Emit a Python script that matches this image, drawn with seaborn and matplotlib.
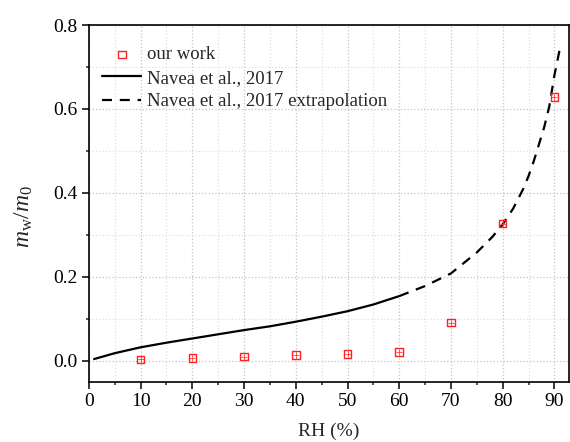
import numpy as np
import pandas as pd
import matplotlib
matplotlib.use("Agg")
import matplotlib.pyplot as plt
from matplotlib.ticker import MultipleLocator
import seaborn as sns

# measured data ("our work")
rh_work = [10, 20, 30, 40, 50, 60, 70, 80, 90]
mw_work = [0.003, 0.007, 0.010, 0.013, 0.016, 0.021, 0.091, 0.327, 0.629]

# Navea et al., 2017 (measured range)
rh_navea = [1, 3, 5, 10, 15, 20, 25, 30, 35, 40, 45, 50, 55, 60]
mw_navea = [0.004, 0.011, 0.018, 0.032, 0.043, 0.053, 0.063, 0.073, 0.082, 0.093,
            0.105, 0.118, 0.134, 0.154]

# Navea et al., 2017 extrapolation
rh_extra = [60, 65, 70, 75, 78, 80, 82, 84, 85, 86, 87, 88, 89, 90, 91]
mw_extra = [0.154, 0.178, 0.208, 0.258, 0.295, 0.325, 0.362, 0.41, 0.44, 0.475,
            0.515, 0.555, 0.605, 0.68, 0.74]

sns.set_theme(style="ticks")
plt.rcParams['font.family'] = ['Liberation Serif', 'DejaVu Serif']
plt.rcParams['mathtext.fontset'] = 'custom'
plt.rcParams['mathtext.rm'] = 'Liberation Serif'
plt.rcParams['mathtext.it'] = 'Liberation Serif:italic'

fig = plt.figure(figsize=(5.70, 4.42), dpi=100)
ax = fig.add_axes([0.156, 0.1364, 0.842, 0.807])

df_work = pd.DataFrame({"RH": rh_work, "mw": mw_work})
df_navea = pd.DataFrame({"RH": rh_navea, "mw": mw_navea})
df_extra = pd.DataFrame({"RH": rh_extra, "mw": mw_extra})

sns.lineplot(data=df_navea, x="RH", y="mw", ax=ax, color="black", lw=1.6,
             label="Navea et al., 2017", zorder=3)
sns.lineplot(data=df_extra, x="RH", y="mw", ax=ax, color="black", lw=1.6,
             label="Navea et al., 2017 extrapolation", zorder=3)
ax.lines[-1].set_dashes((4.5, 3.5))

ax.plot(rh_work, mw_work, linestyle="none", marker="+", ms=5, mew=0.6,
        color="#ff3b3b", zorder=4)
sns.scatterplot(data=df_work, x="RH", y="mw", ax=ax, marker="s", s=30,
                facecolor="none", edgecolor="#ff2020", linewidth=1.0,
                label="our work", zorder=5)

ax.set_xlim(0, 92.8)
ax.set_ylim(-0.05, 0.8)
ax.xaxis.set_major_locator(MultipleLocator(10))
ax.xaxis.set_minor_locator(MultipleLocator(5))
ax.yaxis.set_major_locator(MultipleLocator(0.2))
ax.yaxis.set_minor_locator(MultipleLocator(0.1))
ax.set_xticks(np.arange(0, 91, 10))
ax.set_yticks([0.0, 0.2, 0.4, 0.6, 0.8])
ax.set_yticklabels(["0.0", "0.2", "0.4", "0.6", "0.8"])

ax.grid(which="major", linestyle=":", color="#c4c4c4", lw=0.9)
ax.grid(which="minor", linestyle=":", color="#e0e0e0", lw=0.9)
ax.set_axisbelow(True)

for s in ax.spines.values():
    s.set_linewidth(1.2)
    s.set_color("black")
ax.tick_params(which="major", direction="out", length=5, width=1.1,
               labelsize=14, colors="black", top=False, right=False, pad=3)
ax.tick_params(which="minor", direction="out", length=2.5, width=1.1,
               top=False, right=False)

ax.set_xlabel("RH (%)", fontsize=14)
ax.xaxis.set_label_coords(0.5, -0.115)
ax.set_ylabel(r"$m_\mathrm{w}/m_0$", fontsize=17)
ax.yaxis.set_label_coords(-0.113, 0.462)

handles, labels = ax.get_legend_handles_labels()
order = [labels.index("our work"), labels.index("Navea et al., 2017"),
         labels.index("Navea et al., 2017 extrapolation")]
ax.legend([handles[i] for i in order], [labels[i] for i in order],
          loc="upper left", bbox_to_anchor=(0.0, 0.977), frameon=False,
          fontsize=13.5, handlelength=2.1, handletextpad=0.3, labelspacing=0.33,
          borderaxespad=0.3)

fig.savefig("out.png", dpi=100)
